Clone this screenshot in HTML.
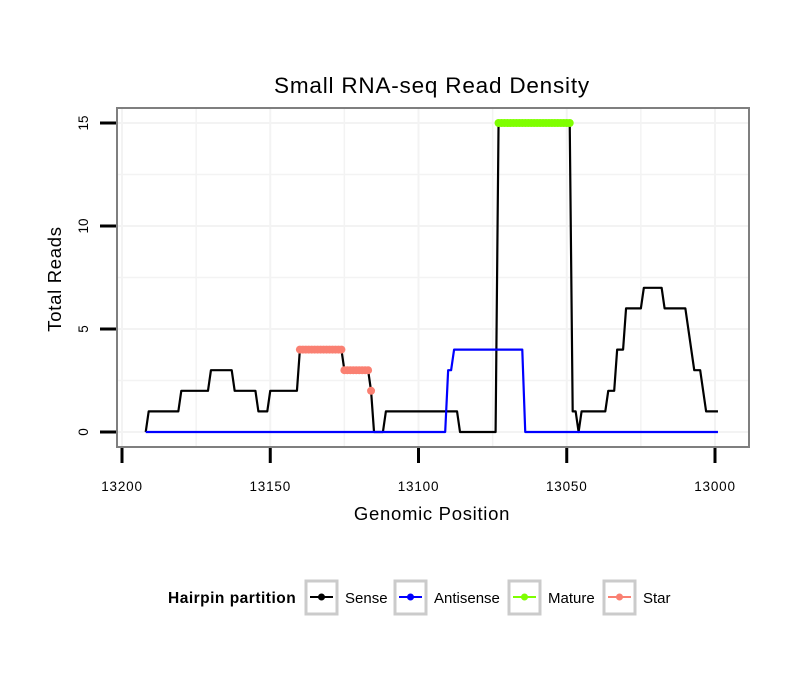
<!DOCTYPE html>
<html><head><meta charset="utf-8"><style>
html,body{margin:0;padding:0;background:#fff;}
svg{display:block;font-family:"Liberation Sans",sans-serif;}
</style></head><body>
<svg id="chart" width="810" height="690" viewBox="0 0 810 690">
<rect x="0" y="0" width="810" height="690" fill="#fff"/>
<text x="432" y="93" font-size="22.5" letter-spacing="0.8" text-anchor="middle">Small RNA-seq Read Density</text>
<g id="grid"></g>
<g id="series"></g>
<rect x="117" y="108" width="632" height="339" fill="none" stroke="#7f7f7f" stroke-width="2"/>
<g id="axes"></g>
<text x="432" y="520" font-size="18.5" letter-spacing="0.7" text-anchor="middle">Genomic Position</text>
<text transform="translate(61,279) rotate(-90)" font-size="18.5" letter-spacing="0.7" text-anchor="middle">Total Reads</text>
<g>
<text x="168" y="603" font-size="15.5" letter-spacing="0.5" font-weight="bold">Hairpin partition</text>
<g><rect x="306" y="581" width="31" height="33" fill="#fff" stroke="#cbcbcb" stroke-width="3"/><line x1="310" y1="597" x2="333" y2="597" stroke="#000" stroke-width="2"/><circle cx="321.5" cy="597" r="3.5" fill="#000"/><text x="345" y="603" font-size="15">Sense</text></g>
<g><rect x="395" y="581" width="31" height="33" fill="#fff" stroke="#cbcbcb" stroke-width="3"/><line x1="399" y1="597" x2="422" y2="597" stroke="#0000ff" stroke-width="2"/><circle cx="410.5" cy="597" r="3.5" fill="#0000ff"/><text x="434" y="603" font-size="15">Antisense</text></g>
<g><rect x="509" y="581" width="31" height="33" fill="#fff" stroke="#cbcbcb" stroke-width="3"/><line x1="513" y1="597" x2="536" y2="597" stroke="#7fff00" stroke-width="2"/><circle cx="524.5" cy="597" r="3.5" fill="#7fff00"/><text x="548" y="603" font-size="15">Mature</text></g>
<g><rect x="604" y="581" width="31" height="33" fill="#fff" stroke="#cbcbcb" stroke-width="3"/><line x1="608" y1="597" x2="631" y2="597" stroke="#fa8072" stroke-width="2"/><circle cx="619.5" cy="597" r="3.5" fill="#fa8072"/><text x="643" y="603" font-size="15">Star</text></g>
</g>
</svg>
<script>
const senseX=[13192,13191,13181,13180,13171,13170,13163,13162,13155,13154,13151,13150,13141,13140,13126,13125,13117,13116,13115,13112,13111,13087,13086,13074,13073,13049,13048,13047,13046,13045,13037,13036,13034,13033,13031,13030,13025,13024,13018,13017,13010,13007,13005,13003,12999];
const senseY=[0,1,1,2,2,3,3,2,2,1,1,2,2,4,4,3,3,2,0,0,1,1,0,0,15,15,1,1,0,1,1,2,2,4,4,6,6,7,7,6,6,3,3,1,1];
const antiX=[13192,13091,13090,13089,13088,13065,13064,12999];
const antiY=[0,0,3,3,4,4,0,0];
const matureStart=13073, matureEnd=13049, matureVal=15;
const starX=[13140,13139,13138,13137,13136,13135,13134,13133,13132,13131,13130,13129,13128,13127,13126,13125,13124,13123,13122,13121,13120,13119,13118,13117,13116];
const starY=[4,4,4,4,4,4,4,4,4,4,4,4,4,4,4,3,3,3,3,3,3,3,3,3,2];
const xTicks=[13200,13150,13100,13050,13000];
const yTicks=[0,5,10,15];
const NS="http://www.w3.org/2000/svg";
const sx=v=>122+(13200-v)*2.965;
const sy=v=>432-v*20.6;
function mk(tag,attrs,parent){const e=document.createElementNS(NS,tag);for(const k in attrs)e.setAttribute(k,attrs[k]);parent.appendChild(e);return e;}
const grid=document.getElementById('grid'),series=document.getElementById('series'),axes=document.getElementById('axes');
for(let v=13200;v>=13000;v-=25){const g=mk('line',{x1:sx(v),x2:sx(v),y1:109,y2:446,stroke:'#f3f3f3','stroke-width':v%50===0?2:1.5},grid);

}
for(let v=0;v<=15;v+=2.5){const g=mk('line',{x1:118,x2:748,y1:sy(v),y2:sy(v),stroke:'#f3f3f3','stroke-width':v%5===0?2:1.5},grid);

}
function line(xs,ys,color,name){const pts=xs.map((x,i)=>sx(x)+','+sy(ys[i])).join(' ');
const p=mk('polyline',{points:pts,fill:'none',stroke:color,'stroke-width':2.2,'stroke-linejoin':'round'},series);

}
line(senseX,senseY,'#000','sense-line');
line(antiX,antiY,'#0000ff','antisense-line');
for(let v=matureStart;v>=matureEnd;v--){const c=mk('circle',{cx:sx(v),cy:sy(matureVal),r:4,fill:'#7fff00'},series);

}
starX.forEach((x,i)=>{const c=mk('circle',{cx:sx(x),cy:sy(starY[i]),r:4,fill:'#fa8072'},series);

});
xTicks.forEach(v=>{const t=mk('line',{x1:sx(v),x2:sx(v),y1:448,y2:463,stroke:'#000','stroke-width':3},axes);


const l=mk('text',{x:sx(v),y:491,'font-size':13.5,'letter-spacing':0.8,'text-anchor':'middle'},axes);l.textContent=v;

});
yTicks.forEach(v=>{const t=mk('line',{x1:100,x2:116,y1:sy(v),y2:sy(v),stroke:'#000','stroke-width':3},axes);


const l=mk('text',{transform:'translate(88,'+sy(v)+') rotate(-90)','font-size':13.5,'text-anchor':'middle'},axes);l.textContent=v;

});
</script>
</body></html>
